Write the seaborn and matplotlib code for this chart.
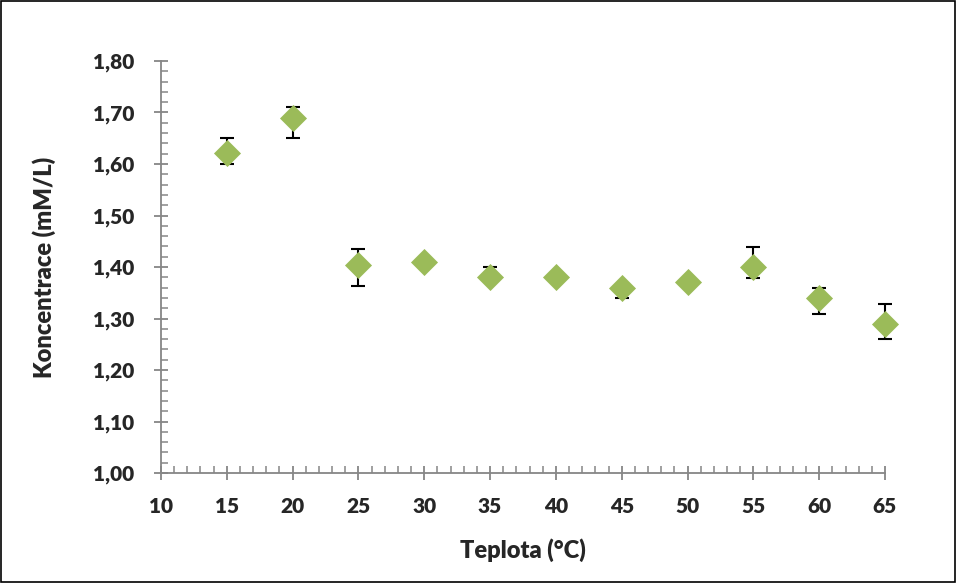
import matplotlib
matplotlib.use("Agg")
import matplotlib.pyplot as plt
from matplotlib.ticker import MultipleLocator, FuncFormatter
import seaborn as sns
import pandas as pd
import numpy as np

teplota = [15, 20, 25, 30, 35, 40, 45, 50, 55, 60, 65]
koncentrace = [1.621, 1.690, 1.404, 1.410, 1.380, 1.380, 1.360, 1.370, 1.400, 1.339, 1.289]
err_upper = [1.650, 1.711, 1.434, 1.414, 1.400, 1.384, 1.364, 1.374, 1.439, 1.359, 1.329]
err_lower = [1.600, 1.650, 1.364, 1.406, 1.375, 1.376, 1.339, 1.366, 1.379, 1.309, 1.260]

df = pd.DataFrame({"Teplota": teplota, "Koncentrace": koncentrace,
                   "hi": err_upper, "lo": err_lower})

sns.set_theme(style="white")
plt.rcParams['font.family'] = ['Lato', 'DejaVu Sans']
W = "heavy"

fig = plt.figure(figsize=(9.57, 5.83), dpi=100)
ax = fig.add_axes([161/957, 1-473/583, (885-161)/957, (473-61)/583])

yerr = np.array([df["Koncentrace"] - df["lo"], df["hi"] - df["Koncentrace"]])
eb = ax.errorbar(df["Teplota"], df["Koncentrace"], yerr=yerr, fmt="none",
                 ecolor="black", elinewidth=1.5, capsize=5, capthick=1.5, zorder=2)
for art in eb.lines[1] + eb.lines[2]:
    art.set_clip_on(False)
sns.scatterplot(data=df, x="Teplota", y="Koncentrace", marker="D", s=190,
                color="#9BBB59", edgecolor="#9BBB59", linewidth=0, ax=ax,
                zorder=3, clip_on=False)

ax.set_xlim(10, 65)
ax.set_ylim(1.0, 1.8)
ax.xaxis.set_major_locator(MultipleLocator(5))
ax.xaxis.set_minor_locator(MultipleLocator(1))
ax.yaxis.set_major_locator(MultipleLocator(0.1))
ax.yaxis.set_minor_locator(MultipleLocator(0.02))
ax.yaxis.set_major_formatter(FuncFormatter(lambda v, p: f"{v:.2f}".replace(".", ",")))

for s in ["top", "right"]:
    ax.spines[s].set_visible(False)
for s in ["left", "bottom"]:
    ax.spines[s].set_color("#868686")
    ax.spines[s].set_linewidth(1.3)

ax.tick_params(axis="both", which="major", direction="inout", length=10,
               width=1.3, color="#868686", labelsize=15)
ax.tick_params(axis="x", which="major", pad=12)
ax.tick_params(axis="y", which="major", pad=14)
ax.tick_params(axis="both", which="minor", direction="in", length=5,
               width=1.1, color="#868686")
ax.tick_params(axis="both", which="both", bottom=True, left=True)
for lab in ax.get_xticklabels() + ax.get_yticklabels():
    lab.set_fontweight(W)

ax.set_xlabel("Teplota (°C)", fontsize=17, fontweight=W)
ax.set_ylabel("Koncentrace (mM/L)", fontsize=17, fontweight=W)
ax.xaxis.set_label_coords(0.5, -(550 - 473) / 412, transform=ax.transAxes)
ax.yaxis.set_label_coords(-(161 - 44) / 724, 0.5, transform=ax.transAxes)
ax.xaxis.label.set_va("center")
ax.yaxis.label.set_va("center")
ax.grid(False)

fig.patches.append(plt.Rectangle((0.001, 0.001), 0.997, 0.997, transform=fig.transFigure,
                                 fill=False, edgecolor="black", linewidth=1.2))

fig.savefig("out.png", dpi=100)
